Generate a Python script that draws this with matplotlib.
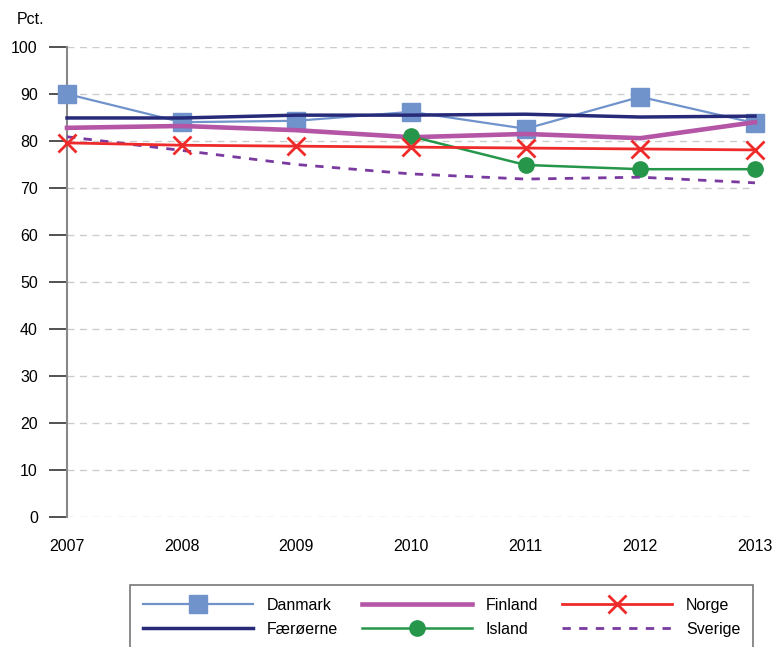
import matplotlib.pyplot as plt
import numpy as np

years = [2007, 2008, 2009, 2010, 2011, 2012, 2013]
danmark = [90.0, 84.0, 84.3, 86.2, 82.6, 89.4, 83.8]
faeroerne = [84.9, 84.9, 85.5, 85.5, 85.7, 85.1, 85.3]
finland = [82.8, 83.2, 82.3, 80.8, 81.5, 80.6, 84.0]
norge = [79.6, 79.1, 78.9, 78.7, 78.5, 78.3, 78.1]
island_years = [2010, 2011, 2012, 2013]
island = [81.0, 74.9, 74.0, 74.0]
sverige = [80.9, 78.0, 75.0, 73.0, 71.9, 72.3, 71.1]

plt.rcParams['font.family'] = ['Liberation Sans', 'DejaVu Sans']

fig = plt.figure(figsize=(7.76, 6.47), dpi=100)
ax = fig.add_axes([67 / 776, 1 - 517 / 647, (755 - 67) / 776, (517 - 47) / 647])

ax.plot(years, danmark, color='#7093cc', lw=1.6, marker='s', markersize=12.5,
        label='Danmark', zorder=3, clip_on=False)
ax.plot(years, faeroerne, color='#262a78', lw=2.5, label='Færøerne', zorder=3, clip_on=False)
ax.plot(years, finland, color='#b455a6', lw=3.3, label='Finland', zorder=3, clip_on=False)
ax.plot(island_years, island, color='#25964a', lw=1.8, marker='o', markersize=11,
        label='Island', zorder=3, clip_on=False)
ax.plot(years, norge, color='#ee2a2a', lw=2, marker='x', markersize=13, markeredgewidth=2,
        label='Norge', zorder=4, clip_on=False)
ax.plot(years, sverige, color='#7a3aa0', lw=2, ls=(0, (3, 3)), label='Sverige', zorder=3, clip_on=False)

ax.set_xlim(2007, 2013)
ax.set_ylim(0, 100)
ax.set_yticks(np.arange(0, 101, 10))
ax.set_xticks(years)
ax.yaxis.grid(True, color='#cccccc', ls=(0, (5, 4)), lw=1)
ax.set_axisbelow(True)
for s in ['top', 'right', 'bottom']:
    ax.spines[s].set_visible(False)
ax.spines['left'].set_color('#888888')
ax.spines['left'].set_linewidth(1.5)
ax.tick_params(axis='y', length=13, width=1.2, color='#333333', labelsize=11.5, pad=8)
ax.tick_params(axis='x', length=0, labelsize=11.5, pad=16)
fig.text(17 / 776, 1 - 24 / 647, 'Pct.', fontsize=11.5, ha='left', va='baseline')

leg = fig.legend(loc='upper left', bbox_to_anchor=(130 / 776, 1 - 585 / 647),
                 ncol=3, fontsize=11.5, frameon=True, fancybox=False,
                 edgecolor='#555555', handlelength=6.9, handletextpad=0.85, labelspacing=0.56,
                 columnspacing=1.5, borderpad=0.8, borderaxespad=0)
leg.get_frame().set_linewidth(1.2)

fig.savefig('out.png', dpi=100)
